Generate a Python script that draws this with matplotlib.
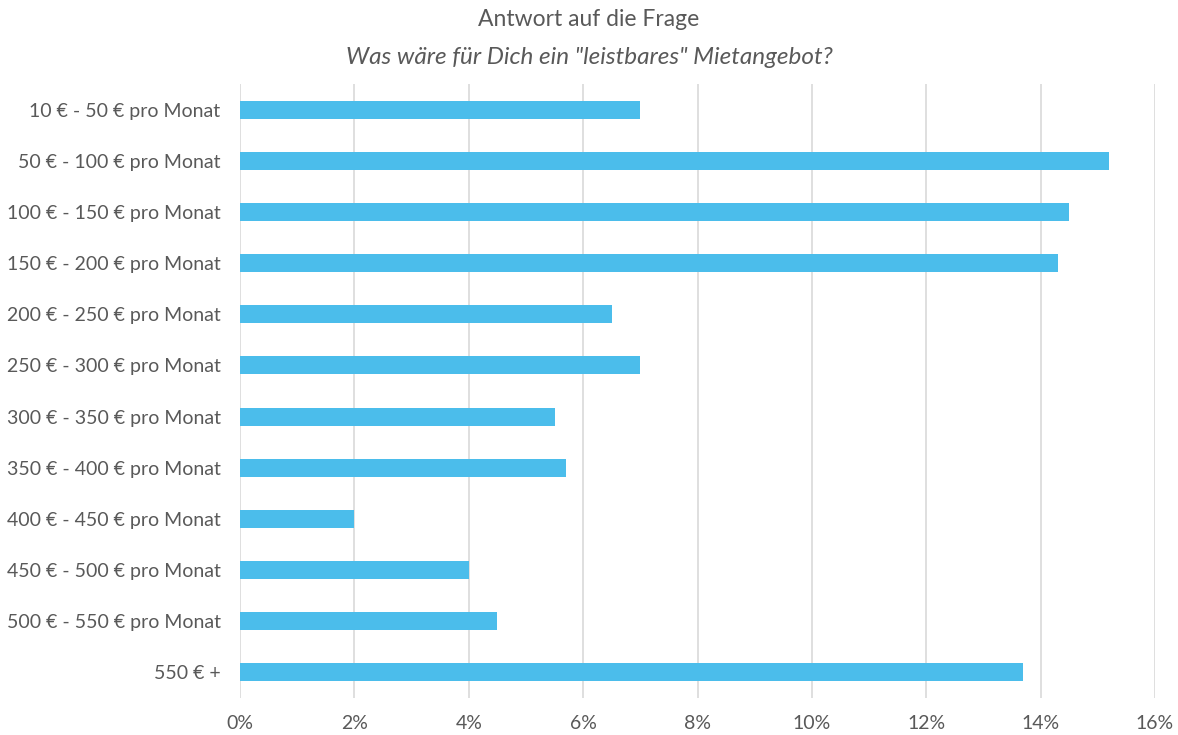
import matplotlib
matplotlib.use("Agg")
import matplotlib.pyplot as plt
from matplotlib.ticker import FuncFormatter

categories = [
    "10 € - 50 € pro Monat",
    "50 € - 100 € pro Monat",
    "100 € - 150 € pro Monat",
    "150 € - 200 € pro Monat",
    "200 € - 250 € pro Monat",
    "250 € - 300 € pro Monat",
    "300 € - 350 € pro Monat",
    "350 € - 400 € pro Monat",
    "400 € - 450 € pro Monat",
    "450 € - 500 € pro Monat",
    "500 € - 550 € pro Monat",
    "550 € +",
]
shares = [7.0, 15.2, 14.5, 14.3, 6.5, 7.0, 5.5, 5.7, 2.0, 4.0, 4.5, 13.7]
xticks = [0, 2, 4, 6, 8, 10, 12, 14, 16]

text_color = "#595959"
bar_color = "#4BBDEB"
grid_color = "#D9D9D9"

plt.rcParams["font.family"] = ["Lato", "DejaVu Sans"]

fig = plt.figure(figsize=(11.78, 7.35), dpi=100)
ax = fig.add_axes([240 / 1178, 1 - 698 / 735, 915 / 1178, 614 / 735])

pos = list(range(len(categories)))
ax.barh(pos, shares, height=0.35, color=bar_color, zorder=3)
ax.set_ylim(len(categories) - 0.5, -0.5)
ax.set_yticks(pos)
ax.set_yticklabels(categories)
ax.set_xlim(0, 16)
ax.set_xticks(xticks)
ax.xaxis.set_major_formatter(FuncFormatter(lambda v, p: f"{v:.0f}%"))

ax.grid(axis="x", color=grid_color, linewidth=1.2, zorder=0)
for s in ax.spines.values():
    s.set_visible(False)
ax.tick_params(length=0, colors=text_color, labelsize=14)
ax.tick_params(axis="x", pad=12)
ax.tick_params(axis="y", pad=14)

fig.text(0.5, 1 - 20 / 735, "Antwort auf die Frage", ha="center", va="center",
         color=text_color, fontsize=16.5)
fig.text(0.5, 1 - 57 / 735, 'Was wäre für Dich ein "leistbares" Mietangebot?',
         ha="center", va="center", color=text_color, fontsize=17.5, style="italic")

fig.savefig("out.png", dpi=100)
